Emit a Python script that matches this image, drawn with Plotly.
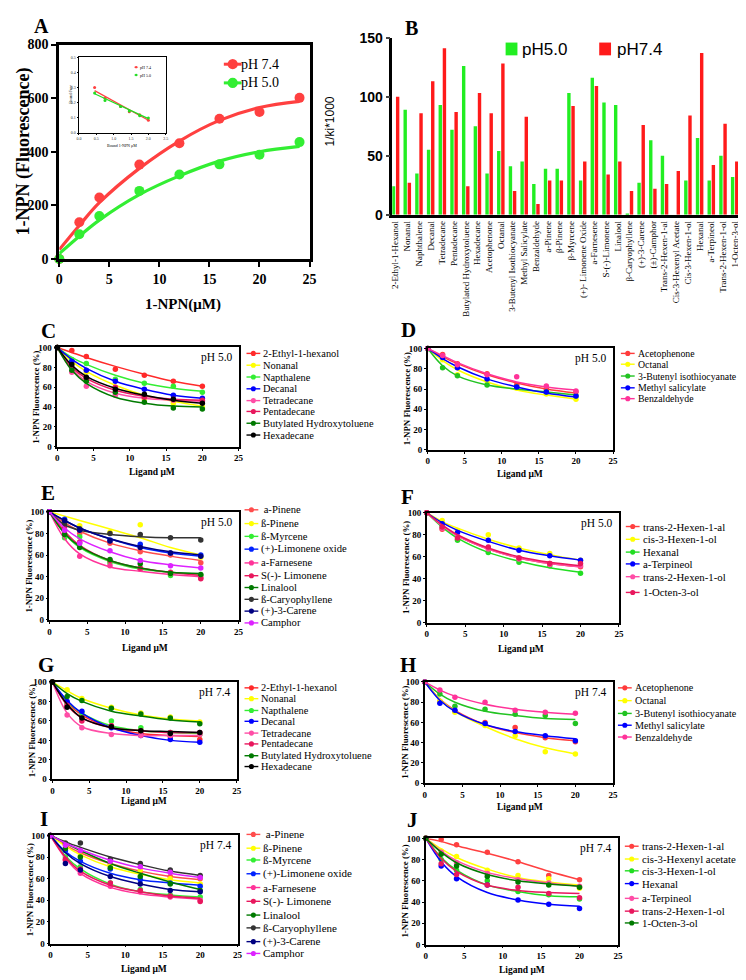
import plotly.graph_objects as go

W, H = 746, 980

# ---------------- A: 1-NPN binding curve
npn_x = [0, 2, 4, 8, 12, 16, 20, 24]
npn_ph74 = [0, 137, 229, 352, 432, 523, 548, 601]
npn_ph50 = [0, 92, 160, 254, 315, 353, 389, 436]
npn_fit74 = [35, 125, 210, 338, 440, 517, 565, 588]
npn_fit50 = [20, 85, 145, 240, 310, 365, 400, 420]

# inset (Scatchard)
sc_x = [0.45, 0.75, 1.2, 1.45, 1.75, 2.0]
sc_ph74 = [0.30, 0.23, 0.175, 0.14, 0.12, 0.085]
sc_ph50 = [0.265, 0.215, 0.175, 0.145, 0.115, 0.10]
sc_fit_x = [0.45, 2.0]
sc_fit74 = [0.28, 0.085]
sc_fit50 = [0.26, 0.095]

# ---------------- B: 1/Ki * 1000
ligands = ["2-Ethyl-1-Hexanol", "Nonanal", "Naphthalene", "Decanal", "Tetradecane",
           "Pentadecane", "Butylated Hydroxytoluene", "Hexadecane", "Acetophenone",
           "Octanal", "3-Butenyl Isothiocyanate", "Methyl Salicylate", "Benzaldehyde",
           "a-Pinene", "β-Pinene", "β-Myrcene", "(+)- Limonene Oxide", "a-Farnesene",
           "S-(-)-Limonene", "Linalool", "β-Caryophyllene", "(+)-3-Carene", "(±)-Camphor",
           "Trans-2-Hexen-1-al", "Cis-3-Hexenyl Acetate", "Cis-3-Hexen-1-ol", "Hexanal",
           "a-Terpineol", "Trans-2-Hexen-1-ol", "1-Octen-3-ol"]
ki_ph50 = [24, 89, 35, 55, 93, 72, 126, 75, 35, 54, 41, 45, 26, 39, 39,
           103, 29, 116, 95, 93, 1, 27, 63, 50, 0, 29, 65, 29, 50, 32]
ki_ph74 = [100, 27, 86, 113, 141, 87, 24, 103, 86, 128, 20, 83, 9, 29, 29,
           92, 45, 109, 34, 45, 20, 76, 22, 26, 37, 84, 137, 42, 77, 45]

# ---------------- C-J: competitive binding
lig_x = [0, 2, 4, 8, 12, 16, 20]

names_alk = ["2-Ethyl-1-hexanol", "Nonanal", "Napthalene", "Decanal", "Tetradecane",
             "Pentadecane", "Butylated Hydroxytoluene", "Hexadecane"]
names_aro = ["Acetophenone", "Octanal", "3-Butenyl isothiocyanate", "Methyl salicylate",
             "Benzaldehyde"]
names_ter = [" a-Pinene", "ß-Pinene", "ß-Myrcene", "(+)-Limonene oxide", "a-Farnesene",
             "S(-)- Limonene", "Linalool", "ß-Caryophyllene", "(+)-3-Carene", "Camphor"]
names_f = ["trans-2-Hexen-1-al", "cis-3-Hexen-1-ol", "Hexanal", "a-Terpineol",
           "trans-2-Hexen-1-ol", "1-Octen-3-ol"]
names_j = ["trans-2-Hexen-1-al", "cis-3-Hexenyl acetate", "cis-3-Hexen-1-ol", "Hexanal",
           "a-Terpineol", "trans-2-Hexen-1-ol", "1-Octen-3-ol"]

c_pts = [[100, 97, 91, 78, 72, 66, 61], [100, 85, 75, 60, 48, 44, 40],
         [100, 88, 84, 68, 64, 61, 55], [100, 86, 77, 66, 58, 52, 49],
         [100, 75, 61, 52, 50, 47, 46], [100, 80, 69, 60, 50, 48, 47],
         [100, 77, 66, 55, 45, 39, 38], [100, 83, 70, 58, 53, 48, 44]]
c_fit = [[100, 95, 90, 81, 73, 66, 61], [100, 86, 76, 62, 52, 46, 41],
         [100, 90, 83, 72, 64, 59, 56], [100, 88, 79, 66, 58, 52, 49],
         [100, 78, 66, 54, 49, 47, 46], [100, 80, 69, 57, 51, 48, 47],
         [100, 77, 64, 50, 44, 41, 40], [100, 82, 71, 59, 52, 47, 44]]

d_pts = [[100, 94, 85, 75, 64, 60, 57], [100, 89, 74, 68, 61, 55, 50],
         [100, 81, 73, 64, 62, 57, 53], [100, 91, 81, 70, 62, 57, 53],
         [100, 93, 84, 74, 72, 63, 58]]
d_fit = [[100, 92, 85, 74, 66, 60, 56], [100, 88, 79, 67, 59, 54, 50],
         [100, 83, 73, 64, 60, 57, 54], [100, 90, 82, 70, 62, 56, 52],
         [100, 93, 86, 75, 67, 62, 59]]

e_pts = [[100, 91, 80, 71, 63, 60, 53], [100, 90, 87, 81, 88, 62, 58],
         [100, 76, 77, 53, 47, 41, 41], [100, 93, 84, 74, 70, 62, 60],
         [100, 82, 59, 50, 47, 43, 39], [100, 86, 72, 55, 48, 44, 38],
         [100, 79, 67, 56, 52, 43, 42], [100, 89, 84, 80, 79, 76, 74],
         [100, 92, 83, 73, 67, 62, 59], [100, 83, 71, 64, 55, 50, 48]]
e_fit = [[100, 90, 82, 71, 64, 59, 55], [100, 96, 92, 84, 76, 67, 60],
         [100, 80, 67, 54, 47, 44, 42], [100, 92, 85, 75, 67, 62, 59],
         [100, 75, 61, 49, 45, 42, 40], [100, 82, 69, 55, 48, 44, 41],
         [100, 80, 68, 55, 48, 44, 43], [100, 88, 83, 79, 77, 76, 76],
         [100, 92, 85, 75, 68, 63, 60], [100, 85, 75, 63, 55, 51, 48]]

f_pts = [[100, 85, 76, 68, 59, 54, 51], [100, 93, 84, 80, 68, 63, 57],
         [100, 87, 75, 64, 55, 52, 45], [100, 90, 82, 75, 66, 61, 57],
         [100, 86, 78, 67, 58, 53, 52], [100, 87, 77, 69, 59, 54, 54]]
f_fit = [[100, 88, 79, 67, 59, 54, 51], [100, 92, 86, 76, 68, 62, 57],
         [100, 87, 77, 64, 56, 50, 46], [100, 91, 84, 74, 66, 61, 57],
         [100, 88, 79, 67, 59, 54, 51], [100, 89, 80, 68, 60, 55, 52]]

g_pts = [[100, 75, 65, 55, 49, 44, 41], [100, 92, 83, 74, 68, 64, 59],
         [100, 78, 68, 60, 53, 48, 46], [100, 80, 70, 53, 45, 41, 38],
         [100, 66, 53, 46, 45, 45, 46], [100, 76, 60, 55, 50, 48, 48],
         [100, 85, 81, 73, 67, 63, 57], [100, 74, 63, 54, 50, 47, 48]]
g_fit = [[100, 79, 66, 53, 47, 45, 44], [100, 91, 83, 73, 66, 62, 60],
         [100, 80, 68, 55, 50, 48, 47], [100, 81, 68, 53, 45, 40, 38],
         [100, 68, 54, 47, 45, 45, 45], [100, 76, 63, 53, 50, 48, 48],
         [100, 88, 80, 70, 65, 61, 59], [100, 77, 63, 53, 50, 49, 48]]

h_pts = [[100, 81, 71, 60, 55, 45, 41], [100, 81, 70, 57, 47, 31, 29],
         [100, 88, 76, 73, 68, 67, 59], [100, 79, 72, 59, 51, 47, 42],
         [100, 92, 85, 80, 72, 70, 69]]
h_fit = [[100, 83, 72, 58, 50, 45, 42], [100, 83, 71, 56, 44, 35, 29],
         [100, 88, 80, 71, 67, 64, 63], [100, 82, 71, 58, 51, 47, 44],
         [100, 92, 86, 78, 73, 70, 68]]

i_pts = [[100, 92, 84, 73, 66, 62, 60], [100, 87, 81, 72, 68, 60, 55],
         [100, 80, 71, 56, 50, 45, 43], [100, 86, 76, 69, 59, 56, 53],
         [100, 77, 65, 53, 48, 43, 40], [100, 78, 69, 56, 49, 44, 39],
         [100, 88, 80, 70, 62, 55, 49], [100, 93, 93, 78, 74, 68, 63],
         [100, 74, 68, 62, 55, 49, 48], [100, 91, 86, 76, 71, 66, 61]]
i_fit = [[100, 91, 84, 74, 67, 62, 59], [100, 90, 82, 71, 64, 59, 56],
         [100, 81, 69, 55, 48, 45, 43], [100, 85, 76, 65, 59, 56, 54],
         [100, 79, 65, 52, 46, 43, 41], [100, 80, 67, 54, 48, 44, 42],
         [100, 93, 86, 74, 65, 57, 50], [100, 94, 89, 80, 73, 67, 63],
         [100, 84, 74, 62, 55, 50, 48], [100, 93, 87, 77, 70, 65, 61]]

j_pts = [[100, 99, 94, 87, 78, 65, 61], [100, 88, 83, 70, 65, 62, 53],
         [100, 80, 70, 60, 50, 47, 43], [100, 74, 62, 56, 42, 38, 34],
         [100, 87, 77, 67, 61, 58, 55], [100, 76, 66, 56, 54, 48, 44],
         [100, 85, 74, 64, 59, 56, 54]]
j_fit = [[100, 97, 93, 86, 78, 69, 61], [100, 90, 82, 71, 63, 59, 56],
         [100, 82, 70, 56, 50, 46, 45], [100, 78, 64, 49, 42, 38, 36],
         [100, 88, 79, 68, 62, 58, 55], [100, 81, 69, 56, 51, 49, 48],
         [100, 87, 77, 66, 60, 57, 55]]

# ---------------- styles
RED, YEL, LIME, BLUE = "#ff2a2a", "#ffff00", "#33ee33", "#0000ff"
PINK, CRIM, DKG, BLK = "#ff4da6", "#e8175d", "#007a00", "#000000"
col_alk = [RED, YEL, LIME, BLUE, PINK, CRIM, DKG, BLK]
col_aro = ["#ff3b3b", YEL, "#22c322", BLUE, "#ff3399"]
col_ter = ["#ff4d4d", YEL, LIME, "#0022ff", "#ff3399", CRIM, DKG, "#333333", "#000080", "#dd22ff"]
col_f = ["#ff4040", YEL, "#22dd22", BLUE, PINK, CRIM]
col_j = ["#ff4040", YEL, "#22dd22", BLUE, PINK, CRIM, DKG]

SERIF = "Liberation Serif"
SANS = "Liberation Sans"


def px(x):
    return x / W


def py(y):
    return 1 - y / H


fig = go.Figure()
annots = []
shapes = []


def note(x, y, text, size, family=SERIF, bold=False, xa="center", ya="middle", angle=0, color="black"):
    annots.append(dict(x=px(x), y=py(y), xref="paper", yref="paper", text=text, showarrow=False,
                       xanchor=xa, yanchor=ya, textangle=angle, borderpad=0,
                       font=dict(family=family, size=size, color=color,
                                 weight="bold" if bold else "normal")))


def glyph(x, y, color, r=2.6, half=7, lw=1.4):
    shapes.append(dict(type="line", xref="paper", yref="paper", x0=px(x - half), x1=px(x + half),
                       y0=py(y), y1=py(y), line=dict(color=color, width=lw)))
    shapes.append(dict(type="circle", xref="paper", yref="paper", x0=px(x - r), x1=px(x + r),
                       y0=py(y + r), y1=py(y - r), fillcolor=color, line=dict(color=color, width=0)))


def set_axes(n, box, xr, yr, tickfont, lw=1.5, mirror=True, ticklen=2, dtick_x=5, dtick_y=20):
    x0, x1, y0, y1 = box
    sx = "" if n == 1 else str(n)
    common = dict(showgrid=False, zeroline=False, showline=True, linecolor="black", linewidth=lw,
                  mirror=mirror, ticks="outside", ticklen=ticklen, tickwidth=max(1, lw * 0.7),
                  tickcolor="black", tickfont=tickfont)
    fig.update_layout(**{
        "xaxis" + sx: dict(domain=[px(x0), px(x1)], range=xr, anchor="y" + sx, dtick=dtick_x, **common),
        "yaxis" + sx: dict(domain=[py(y1), py(y0)], range=yr, anchor="x" + sx, dtick=dtick_y, **common),
    })


# ---------------- panel A
for yv, fit, c in [(npn_ph74, npn_fit74, "#ff4040"), (npn_ph50, npn_fit50, "#33ee33")]:
    fig.add_trace(go.Scatter(x=npn_x, y=fit, mode="lines", line=dict(color=c, width=3.2, shape="spline"),
                             showlegend=False, xaxis="x", yaxis="y"))
    fig.add_trace(go.Scatter(x=npn_x, y=yv, mode="markers", marker=dict(color=c, size=10), cliponaxis=False,
                             showlegend=False, xaxis="x", yaxis="y"))
set_axes(1, (48, 302, 29, 247), [0, 25], [0, 800],
         dict(family=SERIF, size=14, color="black", weight="bold"), lw=3, ticklen=5, dtick_y=200)
note(12, 138, "1-NPN (Fluorescence)", 18, bold=True, angle=-90)
note(174, 293, "1-NPN(μM)", 15, bold=True)
note(30, 10, "A", 20, bold=True)
glyph(224, 49, "#ff4040", r=5.2, half=9, lw=3)
glyph(224, 68, "#33ee33", r=5.2, half=9, lw=3)
note(231, 49, "pH 7.4", 14, xa="left")
note(231, 68, "pH 5.0", 14, xa="left")

# inset
for yv, fit, c in [(sc_ph74, sc_fit74, "#ff4040"), (sc_ph50, sc_fit50, "#22dd22")]:
    fig.add_trace(go.Scatter(x=sc_fit_x, y=fit, mode="lines", line=dict(color=c, width=1.2),
                             showlegend=False, xaxis="x2", yaxis="y2"))
    fig.add_trace(go.Scatter(x=sc_x, y=yv, mode="markers", marker=dict(color=c, size=3),
                             showlegend=False, xaxis="x2", yaxis="y2"))
set_axes(2, (68, 156, 42, 119), [0, 2.5], [0, 0.5],
         dict(family=SERIF, size=4, color="#333"), lw=0.8, ticklen=1.5, dtick_x=0.5, dtick_y=0.1)
fig.update_layout(xaxis2=dict(tickformat=".1f"), yaxis2=dict(tickformat=".1f"))
note(112, 132, "Bound 1-NPN μM", 4)
note(60, 80, "Bound/Free", 4, angle=-90)
glyph(126, 52, "#ff4040", r=1.2, half=2, lw=0.6)
glyph(126, 60, "#22dd22", r=1.2, half=2, lw=0.6)
note(129, 52, "pH 7.4", 4, xa="left")
note(129, 60, "pH 5.0", 4, xa="left")

# ---------------- panel B
fig.add_trace(go.Bar(x=ligands, y=ki_ph50, marker=dict(color="#22ee22", line=dict(width=0)),
                     showlegend=False, xaxis="x3", yaxis="y3"))
fig.add_trace(go.Bar(x=ligands, y=ki_ph74, marker=dict(color="#ff1a1a", line=dict(width=0)),
                     showlegend=False, xaxis="x3", yaxis="y3"))
fig.update_layout(
    xaxis3=dict(domain=[px(386), px(743)], range=[-0.28, 29.8], anchor="y3", type="category",
                showline=True, linecolor="black", linewidth=2.5, ticks="", tickangle=-90,
                tickfont=dict(family=SERIF, size=9, color="black"), showgrid=False),
    yaxis3=dict(domain=[py(202), py(22)], range=[0, 150], anchor="x3", dtick=50,
                showline=True, linecolor="black", linewidth=2.5, ticks="outside", ticklen=4,
                tickwidth=2, tickfont=dict(family=SANS, size=14, color="black", weight="bold"),
                showgrid=False, zeroline=False),
    barmode="group", bargap=0.29, bargroupgap=0.18,
)
note(323, 107, "1/ki*1000", 12, family=SANS, angle=-90)
note(405, 12, "B", 20, bold=True)
shapes.append(dict(type="rect", xref="paper", yref="paper", x0=px(501), x1=px(513), y0=py(40), y1=py(27),
                   fillcolor="#22ee22", line=dict(width=0)))
shapes.append(dict(type="rect", xref="paper", yref="paper", x0=px(596), x1=px(608), y0=py(40), y1=py(27),
                   fillcolor="#ff1a1a", line=dict(width=0)))
note(517, 34, "pH5.0", 17, family=SANS, xa="left")
note(613, 34, "pH7.4", 17, family=SANS, xa="left")

# ---------------- panels C-J
panels = [
    # n, letter, box, names, pts, fits, colors, pH, legend marker x, legend ys, xtitle pos, letter pos, legend font
    (4, "C", (46, 230, 337, 438), names_alk, c_pts, c_fit, col_alk, "pH 5.0", 245,
     [343, 355, 367, 379, 391, 402, 414, 426], (142, 464), (37, 320), 10.4),
    (5, "D", (422, 610, 338, 441), names_aro, d_pts, d_fit, col_aro, "pH 5.0", 625,
     [343, 354, 366, 378, 389], (516, 466), (402, 319), 9.8),
    (6, "E", (38, 230, 504, 614), names_ter, e_pts, e_fit, col_ter, "pH 5.0", 243,
     [502, 516, 529, 542, 556, 569, 581, 593, 605, 617], (135, 642), (37, 485), 10.6),
    (7, "F", (421, 616, 505, 617), names_f, f_pts, f_fit, col_f, "pH 5.0", 630,
     [519, 532, 545, 557, 570, 586], (517, 644), (401, 489), 10.8),
    (8, "G", (41, 228, 677, 776), names_alk, g_pts, g_fit, col_alk, "pH 7.4", 243,
     [683, 694, 706, 717, 729, 740, 752, 763], (134, 798), (35, 660), 10.4),
    (9, "H", (419, 610, 677, 780), names_aro, h_pts, h_fit, col_aro, "pH 7.4", 622,
     [683, 696, 709, 721, 733], (516, 804), (402, 660), 10.1),
    (10, "I", (39, 229, 833, 943), names_ter, i_pts, i_fit, col_ter, "pH 7.4", 245,
     [832, 846, 858, 872, 886, 900, 914, 927, 941, 953], (134, 969), (32, 816), 11),
    (11, "J", (420, 615, 836, 944), names_j, j_pts, j_fit, col_j, "pH 7.4", 629,
     [844, 857, 869, 882, 897, 910, 922], (518, 970), (407, 817), 10.8),
]

for n, letter, box, names, pts, fits, cols, ph, lx, lys, xt, lp, lfs in panels:
    for name, p, f, c in zip(names, pts, fits, cols):
        fig.add_trace(go.Scatter(x=lig_x, y=f, mode="lines", line=dict(color=c, width=1.5, shape="spline"),
                                 name=name, showlegend=False, xaxis=f"x{n}", yaxis=f"y{n}"))
        fig.add_trace(go.Scatter(x=lig_x, y=p, mode="markers", marker=dict(color=c, size=5.5),
                                 name=name, showlegend=False, cliponaxis=False, xaxis=f"x{n}", yaxis=f"y{n}"))
    set_axes(n, box, [0, 25], [0, 100], dict(family=SERIF, size=9, color="black", weight="bold"))
    x0, x1, y0, y1 = box
    note(x0 - 21, (y0 + y1) / 2, "1-NPN Fluorescence (%)", 8.8, bold=True, angle=-90)
    note(xt[0], xt[1], "Ligand μM", 9.5, bold=True)
    note(lp[0], lp[1], letter, 21, bold=True)
    note(x1 - 5, y0 + 3, ph, 11.5, xa="right", ya="top")
    for name, c, ly in zip(names, cols, lys):
        glyph(lx, ly, c)
        note(lx + 9, ly, name, lfs, xa="left")

fig.update_layout(
    width=W, height=H, margin=dict(l=0, r=0, t=0, b=0),
    paper_bgcolor="white", plot_bgcolor="white",
    annotations=annots, shapes=shapes, showlegend=False,
)

fig.write_html("out.html")
